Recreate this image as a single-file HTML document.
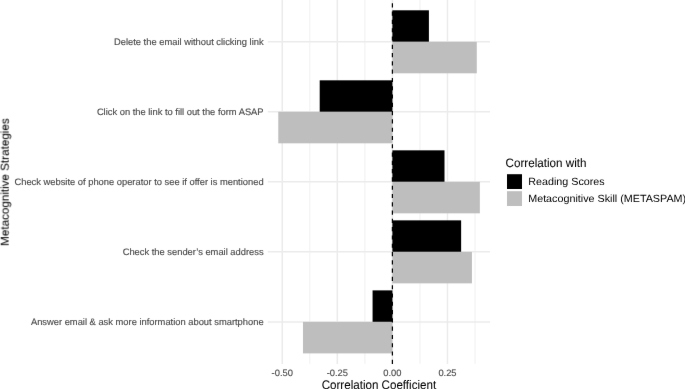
<!DOCTYPE html><html><head><meta charset="utf-8"><style>html,body{margin:0;padding:0;background:#fff;width:685px;height:389px;overflow:hidden}svg{display:block}#w{width:685px;height:389px}text{font-family:"Liberation Sans",sans-serif;text-rendering:geometricPrecision;stroke:currentColor;stroke-width:0.15px}.lg{stroke-width:0}.tt{stroke-width:0.05px}</style></head><body>
<div id="w"><svg width="685" height="389" viewBox="0 0 685 389">
<defs><filter id="bl" x="-5%" y="-5%" width="110%" height="110%" color-interpolation-filters="sRGB"><feConvolveMatrix order="3" kernelMatrix="0.00163 0.03713 0.00163 0.03713 0.84497 0.03713 0.00163 0.03713 0.00163" edgeMode="duplicate" preserveAlpha="false"/></filter></defs><g filter="url(#bl)">
<rect width="685" height="389" fill="#fff"/>
<line x1="309.79" y1="-0.2" x2="309.79" y2="363.9" stroke="#EBEBEB" stroke-width="0.75"/>
<line x1="364.86" y1="-0.2" x2="364.86" y2="363.9" stroke="#EBEBEB" stroke-width="0.75"/>
<line x1="419.94" y1="-0.2" x2="419.94" y2="363.9" stroke="#EBEBEB" stroke-width="0.75"/>
<line x1="475.01" y1="-0.2" x2="475.01" y2="363.9" stroke="#EBEBEB" stroke-width="0.75"/>
<line x1="282.25" y1="-0.2" x2="282.25" y2="363.9" stroke="#EBEBEB" stroke-width="1.5"/>
<line x1="337.32" y1="-0.2" x2="337.32" y2="363.9" stroke="#EBEBEB" stroke-width="1.5"/>
<line x1="392.40" y1="-0.2" x2="392.40" y2="363.9" stroke="#EBEBEB" stroke-width="1.5"/>
<line x1="447.47" y1="-0.2" x2="447.47" y2="363.9" stroke="#EBEBEB" stroke-width="1.5"/>
<line x1="267.8" y1="41.80" x2="490.0" y2="41.80" stroke="#EBEBEB" stroke-width="1.5"/>
<line x1="267.8" y1="111.82" x2="490.0" y2="111.82" stroke="#EBEBEB" stroke-width="1.5"/>
<line x1="267.8" y1="181.84" x2="490.0" y2="181.84" stroke="#EBEBEB" stroke-width="1.5"/>
<line x1="267.8" y1="251.86" x2="490.0" y2="251.86" stroke="#EBEBEB" stroke-width="1.5"/>
<line x1="267.8" y1="321.88" x2="490.0" y2="321.88" stroke="#EBEBEB" stroke-width="1.5"/>
<rect x="392.40" y="10.30" width="36.50" height="31.50" fill="#000000"/>
<rect x="392.40" y="41.80" width="84.37" height="31.50" fill="#BEBEBE"/>
<rect x="319.70" y="80.32" width="72.70" height="31.50" fill="#000000"/>
<rect x="278.28" y="111.82" width="114.12" height="31.50" fill="#BEBEBE"/>
<rect x="392.40" y="150.34" width="52.10" height="31.50" fill="#000000"/>
<rect x="392.40" y="181.84" width="87.46" height="31.50" fill="#BEBEBE"/>
<rect x="392.40" y="220.36" width="68.73" height="31.50" fill="#000000"/>
<rect x="392.40" y="251.86" width="79.53" height="31.50" fill="#BEBEBE"/>
<rect x="372.57" y="290.38" width="19.83" height="31.50" fill="#000000"/>
<rect x="302.96" y="321.88" width="89.44" height="31.50" fill="#BEBEBE"/>
<line x1="392.4" y1="363.9" x2="392.4" y2="-0.2" stroke="#000" stroke-width="1.2" stroke-dasharray="4.145 4.145"/>
<text x="263.6" y="45.25" font-size="9.35" fill="#4D4D4D" color="#4D4D4D" text-anchor="end">Delete the email without clicking link</text>
<text x="263.6" y="115.27" font-size="9.35" fill="#4D4D4D" color="#4D4D4D" text-anchor="end">Click on the link to fill out the form ASAP</text>
<text x="263.6" y="185.29" font-size="9.35" fill="#4D4D4D" color="#4D4D4D" text-anchor="end">Check website of phone operator to see if offer is mentioned</text>
<text x="263.6" y="255.31" font-size="9.35" fill="#4D4D4D" color="#4D4D4D" text-anchor="end">Check the sender’s email address</text>
<text x="263.6" y="325.33" font-size="9.35" fill="#4D4D4D" color="#4D4D4D" text-anchor="end">Answer email &amp; ask more information about smartphone</text>
<text x="282.25" y="375.8" font-size="9.35" fill="#4D4D4D" color="#4D4D4D" text-anchor="middle">-0.50</text>
<text x="337.32" y="375.8" font-size="9.35" fill="#4D4D4D" color="#4D4D4D" text-anchor="middle">-0.25</text>
<text x="392.40" y="375.8" font-size="9.35" fill="#4D4D4D" color="#4D4D4D" text-anchor="middle">0.00</text>
<text x="447.47" y="375.8" font-size="9.35" fill="#4D4D4D" color="#4D4D4D" text-anchor="middle">0.25</text>
<text transform="translate(378.9,388.8) scale(1,1.07)" font-size="11.6" fill="#000" color="#000" class="tt" text-anchor="middle">Correlation Coefficient</text>
<text transform="translate(8.7,182.2) rotate(-90)" x="0" y="0" font-size="11.65" fill="#000" color="#000" class="tt" text-anchor="middle">Metacognitive Strategies</text>
<text transform="translate(505.6,166.7) scale(1,1.05)" font-size="11.65" fill="#000" color="#000" class="tt">Correlation with</text>
<rect x="507" y="174.2" width="15" height="14.8" fill="#000"/>
<rect x="507" y="191.2" width="15" height="14.8" fill="#BEBEBE"/>
<text transform="translate(528.2,185.3) scale(1,0.97)" font-size="10.75" fill="#000" color="#000" class="lg">Reading Scores</text>
<text transform="translate(528.2,201.9) scale(1,0.97)" font-size="10.75" fill="#000" color="#000" class="lg">Metacognitive Skill (METASPAM)</text>
</g></svg></div></body></html>
